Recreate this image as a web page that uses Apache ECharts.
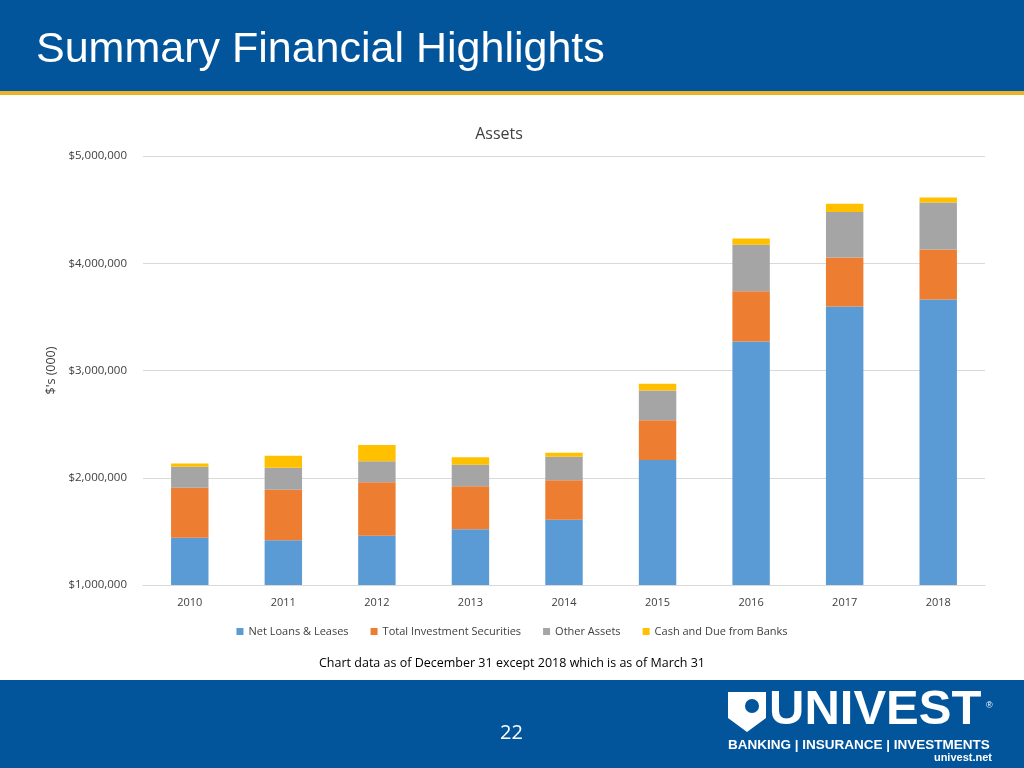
<!DOCTYPE html>
<html>
<head>
<meta charset="utf-8">
<script src="https://cdn.jsdelivr.net/npm/echarts@6/dist/echarts.min.js"></script>
<style>
html,body{margin:0;padding:0;background:#fff;}
#c{width:1024px;height:768px;}
</style>
</head>
<body>
<div id="c"></div>
<script>
const categories = ['2010','2011','2012','2013','2014','2015','2016','2017','2018'];
const netLoans = [1441000,1417000,1459000,1519000,1609000,2165000,3271000,3597000,3663000];
const investSec = [466000,471000,498000,401000,367000,370000,469000,457000,466000];
const otherAssets = [196000,205000,196000,201000,220000,279000,432000,425000,438000];
const cashDue = [31000,112000,152000,69000,37000,62000,59000,75000,46000];
const yTicks = [1000000,2000000,3000000,4000000,5000000];

const font = '"Open Sans", "Liberation Sans", sans-serif';
const chart = echarts.init(document.getElementById('c'));
function fmt(v){ return '$' + v.toLocaleString('en-US'); }
const seriesDefs = [
  ['Net Loans & Leases', netLoans, '#5B9BD5'],
  ['Total Investment Securities', investSec, '#ED7D31'],
  ['Other Assets', otherAssets, '#A5A5A5'],
  ['Cash and Due from Banks', cashDue, '#FFC000']
];
chart.setOption({
  animation:false,
  title:{text:'Assets', left:494, top:121, textAlign:'center',
    textStyle:{fontFamily:font, fontSize:16, fontWeight:'normal', color:'#404040'}},
  grid:{left:143, right:39, top:156, bottom:183},
  legend:{top:621, left:'center', itemWidth:7, itemHeight:7, itemGap:22, icon:'rect',
    textStyle:{fontFamily:font, fontSize:11, color:'#404040'},
    data: seriesDefs.map(d=>d[0])},
  xAxis:{type:'category', data:categories,
    axisLine:{lineStyle:{color:'#D9D9D9'}}, axisTick:{show:false},
    axisLabel:{fontFamily:font, fontSize:11, color:'#404040', margin:12}},
  yAxis:{type:'value', min:yTicks[0], max:yTicks[yTicks.length-1], interval:1000000,
    name:"$'s (000)", nameLocation:'middle', nameGap:78, nameRotate:90,
    nameTextStyle:{fontFamily:font, fontSize:12.5, color:'#404040'},
    axisLine:{show:false}, axisTick:{show:false},
    splitLine:{lineStyle:{color:'#D9D9D9'}},
    axisLabel:{fontFamily:font, fontSize:11.5, color:'#404040', margin:16, formatter:fmt}},
  series: seriesDefs.map(d=>({name:d[0], type:'bar', stack:'a', data:d[1], barWidth:'40%',
    itemStyle:{color:d[2]}})),
  graphic:[
    {type:'rect', left:0, top:0, shape:{width:1024, height:91}, style:{fill:'#02559A'}, z:-1},
    {type:'rect', left:0, top:91, shape:{width:1024, height:4}, style:{fill:'#E9B32A'}, z:-1},
    {type:'text', left:36, top:29, style:{text:'Summary Financial Highlights', fill:'#fff',
      font:'43px "Liberation Sans", Arial, sans-serif'}},
    {type:'text', left:'center', top:657, style:{text:'Chart data as of December 31 except 2018 which is as of March 31',
      fill:'#000', font:'12.5px ' + font}},
    {type:'rect', left:0, top:680, shape:{width:1024, height:88}, style:{fill:'#02559A'}, z:-1},
    {type:'text', left:500, top:723, style:{text:'22', fill:'#fff', font:'20px ' + font}},
    {type:'polygon', shape:{points:[[728,692],[766,692],[766,718],[747,732],[728,718]]}, style:{fill:'#fff'}},
    {type:'circle', shape:{cx:752, cy:706, r:7}, style:{fill:'#02559A'}},
    {type:'text', left:769, top:686, style:{text:'UNIVEST', fill:'#fff',
      font:'bold 49px "Liberation Sans", Arial, sans-serif'}},
    {type:'text', left:986, top:701, style:{text:'®', fill:'#fff', font:'9px "Liberation Sans", Arial, sans-serif'}},
    {type:'text', left:728, top:738, style:{text:'BANKING | INSURANCE | INVESTMENTS', fill:'#fff',
      font:'bold 13.5px "Liberation Sans", Arial, sans-serif'}},
    {type:'text', right:32, top:752, style:{text:'univest.net', fill:'#fff',
      font:'bold 11px "Liberation Sans", Arial, sans-serif'}}
  ]
});
</script>
</body>
</html>
